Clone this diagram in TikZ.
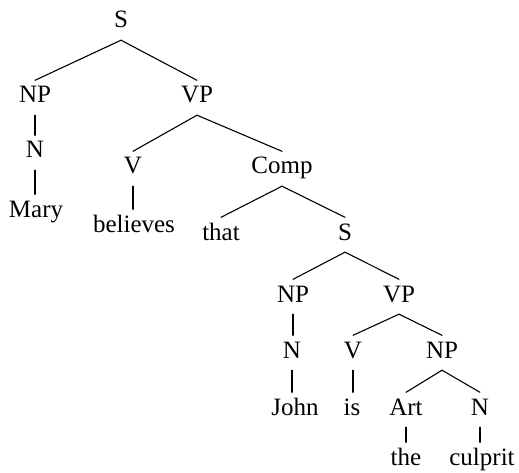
\documentclass[tikz,border=0pt]{standalone}
\usepackage{fontspec}
\setmainfont{Liberation Serif}
\begin{document}
\begin{tikzpicture}[x=1pt,y=-1pt,
  cat/.style={anchor=base, font=\fontsize{25}{30}\selectfont, inner xsep=1pt,
              inner ysep=6pt, text height=16.5pt, text depth=6pt},
  branch/.style={line width=1.1pt, line cap=round}]
\useasboundingbox (0,0) rectangle (519,473);

% categories and words, placed on their baselines
\node[cat] (s)        at (121,28)  {S};
\node[cat] (np1)      at (35,103)  {NP};
\node[cat] (vp1)      at (197,103) {VP};
\node[cat] (n1)       at (35,158)  {N};
\node[cat] (mary)     at (36,217)  {Mary};
\node[cat] (v1)       at (133,174) {V};
\node[cat] (comp)     at (282,174) {Comp};
\node[cat] (believes) at (134,232) {believes};
\node[cat] (that)     at (221,240) {that};
\node[cat] (s2)       at (345,240) {S};
\node[cat] (np2)      at (293,302) {NP};
\node[cat] (vp2)      at (399,302) {VP};
\node[cat] (n2)       at (292,358) {N};
\node[cat] (v2)       at (353,358) {V};
\node[cat] (np3)      at (442,358) {NP};
\node[cat] (john)     at (295,415) {John};
\node[cat] (is)       at (352,415) {is};
\node[cat] (art)      at (406,415) {Art};
\node[cat] (n3)       at (480,415) {N};
\node[cat] (the)      at (406,465) {the};
\node[cat] (culprit)  at (482,465) {culprit};

% branching edges
\draw[branch] (s.south) -- (np1.north);
\draw[branch] (s.south) -- (vp1.north);
\draw[branch] (vp1.south) -- (v1.north);
\draw[branch] (vp1.south) -- (comp.north);
\draw[branch] (comp.south) -- (that.north);
\draw[branch] (comp.south) -- (s2.north);
\draw[branch] (s2.south) -- (np2.north);
\draw[branch] (s2.south) -- (vp2.north);
\draw[branch] (vp2.south) -- (v2.north);
\draw[branch] (vp2.south) -- (np3.north);
\draw[branch] (np3.south) -- (art.north);
\draw[branch] (np3.south) -- (n3.north);

% unary edges, kept vertical
\draw[branch] (np1.south) -- (np1.south |- n1.north);
\draw[branch] (n1.south) -- (n1.south |- mary.north);
\draw[branch] (v1.south) -- (v1.south |- believes.north);
\draw[branch] (np2.south) -- (np2.south |- n2.north);
\draw[branch] (n2.south) -- (n2.south |- john.north);
\draw[branch] (v2.south) -- (v2.south |- is.north);
\draw[branch] (art.south) -- (art.south |- the.north);
\draw[branch] (n3.south) -- (n3.south |- culprit.north);
\end{tikzpicture}
\end{document}
